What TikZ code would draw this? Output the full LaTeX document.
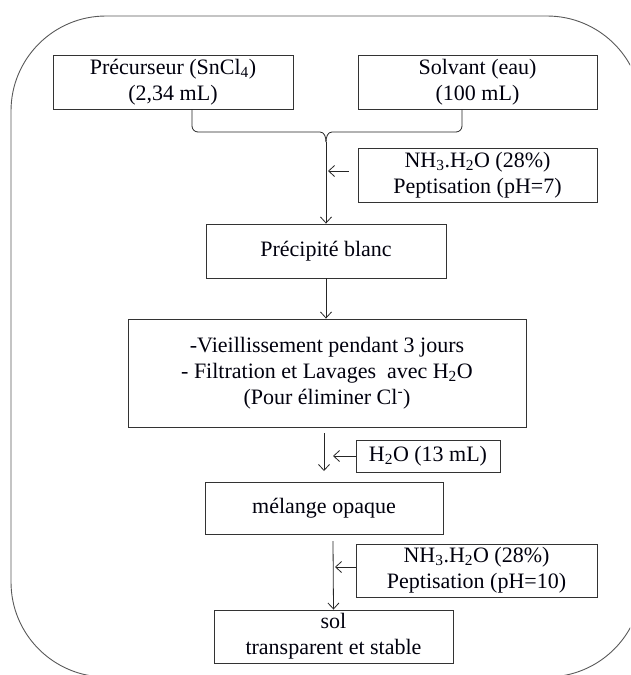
\documentclass[tikz,border=0pt]{standalone}
\usepackage{fontspec}
\setmainfont{Liberation Serif}
\usetikzlibrary{arrows.meta}
\begin{document}
\begin{tikzpicture}[x=1pt,y=-1pt,
  box/.style={draw=black!80, line width=0.9pt, inner sep=0pt, align=center,
    font=\fontsize{22}{26}\selectfont, text=black!95!blue},
  conn/.style={draw=black!85, line width=0.8pt},
  arr/.style={conn, -{Straight Barb[length=6pt,width=11pt]}},
  frame/.style={draw=black!65, line width=0.9pt, rounded corners=95pt}]
\useasboundingbox (0,0) rectangle (630,675);
\begin{scope}
\clip (0,0) rectangle (630,675);
\draw[frame] (11,16) rectangle (642,677);
\end{scope}

\node[box, minimum width=240pt, minimum height=54pt] (b1) at (173,82)
  {Précurseur (SnCl\textsubscript{4})\\(2,34 mL)};
\node[box, minimum width=239pt, minimum height=54pt] (b2) at (477.5,82)
  {Solvant (eau)\\(100 mL)};
\node[box, minimum width=239pt, minimum height=54pt] (n1) at (477.5,175)
  {NH\textsubscript{3}.H\textsubscript{2}O (28\%)\\Peptisation (pH=7)};
\node[box, minimum width=240pt, minimum height=54pt] (b3) at (326,251)
  {Précipité blanc};
\node[box, minimum width=398pt, minimum height=108pt] (b4) at (327,373)
  {-Vieillissement pendant 3 jours\\- Filtration et Lavages\ \ avec H\textsubscript{2}O\\(Pour éliminer Cl\textsuperscript{-})};
\node[box, minimum width=144pt, minimum height=32pt] (w) at (428,456)
  {H\textsubscript{2}O (13 mL)};
\node[box, minimum width=238pt, minimum height=52pt] (b5) at (324,508)
  {mélange opaque};
\node[box, minimum width=241pt, minimum height=53pt] (n2) at (476.5,570.5)
  {NH\textsubscript{3}.H\textsubscript{2}O (28\%)\\Peptisation (pH=10)};
\node[box, minimum width=239pt, minimum height=53pt] (b6) at (333.5,636.5)
  {sol\\transparent et stable};

% brace
\coordinate (tip) at (326,142);
\draw[conn] (b1.south -| 192,0) -- (192,126) to[out=-90,in=180] (198,132)
  -- (320,132) to[out=0,in=90] (tip);
\draw[conn] (b2.south -| 462,0) -- (462,126) to[out=-90,in=0] (456,132)
  -- (332,132) to[out=180,in=90] (tip);
\draw[arr] (tip) -- (b3.north);
\draw[arr] (n1.west |- 0,171) ++(-9,0) -- (328,171);

\draw[arr] (b3.south -| 326,0) -- (b4.north -| 326,0);
\coordinate (a4s) at (324,433);
\coordinate (a4e) at (324,471);
\draw[arr] (a4s) -- (a4e);
\draw[arr] (w.west) -- (333,456);

\draw[arr] (333,541) -- (b6.north);
\draw[arr] (n2.west |- 0,567) -- (335,567);
\end{tikzpicture}
\end{document}
